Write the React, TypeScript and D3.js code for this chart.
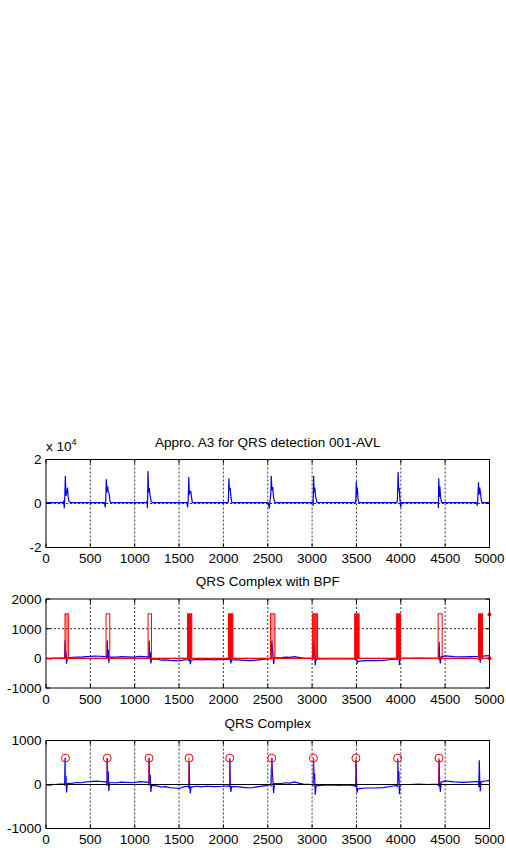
import React from "react";
import * as d3 from "d3";

// ---------- DATA ----------
const xTicks = [0, 500, 1000, 1500, 2000, 2500, 3000, 3500, 4000, 4500, 5000];
const y1Ticks = [-2, 0, 2];
const y2Ticks = [-1000, 0, 1000, 2000];
const y3Ticks = [-1000, 0, 1000];

const title1 = "Appro. A3 for QRS detection 001-AVL";
const title2 = "QRS Complex with BPF";
const title3 = "QRS Complex";

// Approximation A3 (units of 1e4), key vertices
const approxA3: [number, number][] = [
  [0, 0.04], [190, 0.04], [200, 0.1], [206, -0.22], [212, 0.3], [218, 1.25], [224, 0.35], [232, 0.45], [242, 0.72], [250, 0.3], [260, 0.08], [275, 0.04],
  [660, 0.04], [668, -0.18], [674, 0.2], [680, 1.1], [686, 0.5], [694, 0.78], [702, 0.55], [712, 0.45], [722, 0.1], [735, 0.04],
  [1130, 0.04], [1140, 0.1], [1144, -0.2], [1150, 1.48], [1157, 0.5], [1164, 0.7], [1172, 0.4], [1185, 0.1], [1200, 0.04],
  [1590, 0.04], [1596, -0.18], [1604, 0.2], [1610, 1.2], [1615, 0.4], [1622, 0.55], [1632, 0.55], [1640, 0.3], [1650, 0.04],
  [2050, 0.04], [2056, 0.1], [2062, 1.15], [2068, 0.6], [2076, 0.7], [2085, 0.3], [2095, 0.04],
  [2505, 0.04], [2518, -0.22], [2526, 0.15], [2534, 0.4], [2540, 1.25], [2547, 0.6], [2556, 0.75], [2565, 0.3], [2578, 0.06], [2590, 0.04],
  [3000, 0.04], [3008, 0.08], [3012, -0.1], [3017, 1.25], [3023, 0.5], [3030, 0.72], [3040, 0.3], [3055, 0.05],
  [3485, 0.04], [3492, 0.1], [3499, 1.0], [3504, 0.4], [3510, 0.72], [3518, 0.2], [3530, 0.04],
  [3955, 0.04], [3962, 0.2], [3966, 0.8], [3970, 1.43], [3976, 0.6], [3982, 0.7], [3990, 0.2], [3998, -0.18], [4005, 0.04],
  [4410, 0.04], [4420, 0.05], [4424, -0.2], [4428, 1.15], [4434, 0.3], [4440, 0.78], [4448, 0.3], [4460, 0.04],
  [4855, 0.04], [4862, -0.1], [4868, 0.2], [4876, 0.97], [4882, 0.4], [4890, 0.72], [4898, 0.5], [4906, 0.2], [4915, 0.04], [5000, 0.04],
];

// Band-pass filtered signal, key vertices
const bpfSignal: [number, number][] = [
  [0, -10], [60, -15], [70, 5], [100, 0], [150, 10], [205, 15], [210, -20], [215, 600], [220, 30], [226, 200], [232, -180], [240, 20],
  [300, 30], [350, 45], [400, 40], [450, 60], [500, 65], [560, 75], [600, 70], [680, 60], [686, -30], [690, 600], [696, 40], [702, 300], [708, -150], [716, 40],
  [800, 40], [850, 55], [900, 50], [1000, 40], [1050, 65], [1100, 60], [1155, 50], [1160, -20], [1163, 600], [1168, 40], [1175, 220], [1182, -170], [1190, -20],
  [1250, -30], [1300, -60], [1350, -50], [1400, -70], [1450, -80], [1500, -90], [1560, -50], [1605, -40], [1610, -80], [1614, 500], [1620, -20], [1627, -200], [1635, -60],
  [1700, -40], [1750, -55], [1800, -40], [1900, -50], [2000, -40], [2065, -30], [2070, -60], [2073, 580], [2078, 40], [2084, -170], [2092, -50],
  [2150, -50], [2200, -60], [2250, -70], [2300, -80], [2400, -50], [2500, -20], [2530, 0], [2536, -20], [2540, 300], [2547, 600], [2552, 300], [2560, 50], [2566, -190], [2575, 20],
  [2650, 20], [2700, 40], [2750, 30], [2800, 60], [2850, 30], [2900, 10], [3008, 0], [3012, -40], [3017, 580], [3022, 100], [3028, 250], [3035, -230], [3045, -30],
  [3100, -20], [3200, -10], [3300, -20], [3400, -10], [3488, -30], [3492, -60], [3496, 550], [3502, 40], [3508, -180], [3516, -100],
  [3600, -80], [3700, -80], [3800, -70], [3900, -40], [3958, -20], [3962, -60], [3966, 560], [3972, 50], [3978, 300], [3984, -220], [3992, 0],
  [4100, 0], [4200, 10], [4300, 0], [4422, 10], [4427, -40], [4432, 560], [4438, 30], [4446, -170], [4455, 50],
  [4500, 80], [4600, 60], [4700, 50], [4800, 60], [4875, 70], [4880, -60], [4885, 550], [4890, 100], [4896, -150], [4905, 60],
  [4950, 80], [5000, 90],
];

// Detection pulse train (red, plot 2)
const pulseStart = [214, 677, 1151, 1595, 2058, 2532, 3006, 3480, 3950, 4421, 4876];
const pulseEnd = [252, 719, 1189, 1644, 2107, 2581, 3062, 3530, 3996, 4466, 4921];
const pulseLevel = 1500;
const pulseDensity = [0.45, 0, 0, 1, 1, 0.4, 0.85, 1, 1, 0, 1];
const pulseEndMarks = [1480, 0];

// Detected R peaks (red stems, plot 3)
const peakPos = [220, 690, 1161, 1612, 2071, 2545, 3015, 3494, 3964, 4430];
const peakVal = [600, 600, 600, 600, 600, 600, 600, 600, 600, 600];

// ---------- LAYOUT ----------
const FONT = "'Liberation Sans', Arial, sans-serif";
const FS = 13.5;
const L = 46;
const R = 489.5;
const panels = [
  { top: 459.5, bottom: 547.5 },
  { top: 599, bottom: 688 },
  { top: 740.5, bottom: 828.5 },
];

const x = d3.scaleLinear().domain([0, 5000]).range([L, R]);

function Frame({
  y,
  yTicks,
  title,
  top,
  bottom,
}: {
  y: d3.ScaleLinear<number, number>;
  yTicks: number[];
  title: string;
  top: number;
  bottom: number;
}) {
  const tl = 4;
  return (
    <g>
      {xTicks.slice(1, -1).map((t) => (
        <line key={"gx" + t} x1={x(t)} x2={x(t)} y1={top} y2={bottom} stroke="#000" strokeWidth={0.8} strokeDasharray="2,2" />
      ))}
      {yTicks.slice(1, -1).map((t) => (
        <line key={"gy" + t} x1={L} x2={R} y1={y(t)} y2={y(t)} stroke="#000" strokeWidth={0.8} strokeDasharray="2,2" />
      ))}
      {xTicks.map((t) => (
        <g key={"tx" + t}>
          <line x1={x(t)} x2={x(t)} y1={bottom} y2={bottom - tl} stroke="#000" />
          <line x1={x(t)} x2={x(t)} y1={top} y2={top + tl} stroke="#000" />
          <text x={x(t)} y={bottom + 15.5} textAnchor="middle" fontSize={FS} fontFamily={FONT}>
            {t}
          </text>
        </g>
      ))}
      {yTicks.map((t) => (
        <g key={"ty" + t}>
          <line x1={L} x2={L + tl} y1={y(t)} y2={y(t)} stroke="#000" />
          <line x1={R} x2={R - tl} y1={y(t)} y2={y(t)} stroke="#000" />
          <text x={41.5} y={y(t)} dy="0.36em" textAnchor="end" fontSize={FS} fontFamily={FONT}>
            {String(t)}
          </text>
        </g>
      ))}
      <text x={(L + R) / 2} y={top - 12.8} textAnchor="middle" fontSize={FS} fontFamily={FONT}>
        {title}
      </text>
    </g>
  );
}

function Box({ top, bottom }: { top: number; bottom: number }) {
  return <rect x={L} y={top} width={R - L} height={bottom - top} fill="none" stroke="#000" strokeWidth={1} />;
}

export default function App() {
  const y1 = d3.scaleLinear().domain([-2, 2]).range([panels[0].bottom, panels[0].top]);
  const y2 = d3.scaleLinear().domain([-1000, 2000]).range([panels[1].bottom, panels[1].top]);
  const y3 = d3.scaleLinear().domain([-1000, 1000]).range([panels[2].bottom, panels[2].top]);

  const line1 = d3.line<[number, number]>().x((d) => x(d[0])).y((d) => y1(d[1]));
  const line2 = d3.line<[number, number]>().x((d) => x(d[0])).y((d) => y2(d[1]));
  const line3 = d3.line<[number, number]>().x((d) => x(d[0])).y((d) => y3(d[1]));

  return (
    <svg width={506} height={848} style={{ position: "absolute", left: 0, top: 0, background: "#fff" }}>
      <rect x={0} y={0} width={506} height={848} fill="#fff" />

      {/* Panel 1 */}
      <Frame y={y1} yTicks={y1Ticks} title={title1} top={panels[0].top} bottom={panels[0].bottom} />
      <text x={46} y={450.5} fontSize={FS} fontFamily={FONT}>
        x 10
        <tspan fontSize={9} dy={-6}>4</tspan>
      </text>
      <path d={line1(approxA3) || ""} fill="none" stroke="#0000ff" strokeWidth={1.2} />
      <Box top={panels[0].top} bottom={panels[0].bottom} />

      {/* Panel 2 */}
      <Frame y={y2} yTicks={y2Ticks} title={title2} top={panels[1].top} bottom={panels[1].bottom} />
      <path d={line2(bpfSignal) || ""} fill="none" stroke="#0000ff" strokeWidth={1.2} />
      <line x1={x(0)} x2={x(5000)} y1={y2(0)} y2={y2(0)} stroke="#ff0000" strokeWidth={1.1} />
      {pulseStart.map((s, i) => (
        <rect
          key={"p" + i}
          x={x(s)}
          y={y2(pulseLevel)}
          width={x(pulseEnd[i]) - x(s)}
          height={y2(0) - y2(pulseLevel)}
          fill="#ff0000"
          fillOpacity={pulseDensity[i]}
          stroke="#ff0000"
          strokeWidth={1}
        />
      ))}
      {pulseEndMarks.map((v, i) => (
        <circle key={"m" + i} cx={x(5000)} cy={y2(v)} r={2} fill="#ff0000" />
      ))}
      <Box top={panels[1].top} bottom={panels[1].bottom} />

      {/* Panel 3 */}
      <Frame y={y3} yTicks={y3Ticks} title={title3} top={panels[2].top} bottom={panels[2].bottom} />
      <path d={line3(bpfSignal) || ""} fill="none" stroke="#0000ff" strokeWidth={1.2} />
      <line x1={x(0)} x2={x(5000)} y1={y3(0)} y2={y3(0)} stroke="#000" strokeWidth={1} />
      {peakPos.map((p, i) => (
        <g key={"s" + i}>
          <line x1={x(p)} x2={x(p)} y1={y3(0)} y2={y3(peakVal[i])} stroke="#ff0000" strokeWidth={1} />
          <circle cx={x(p)} cy={y3(peakVal[i])} r={4} fill="none" stroke="#ff0000" strokeWidth={1} />
        </g>
      ))}
      <Box top={panels[2].top} bottom={panels[2].bottom} />
    </svg>
  );
}
